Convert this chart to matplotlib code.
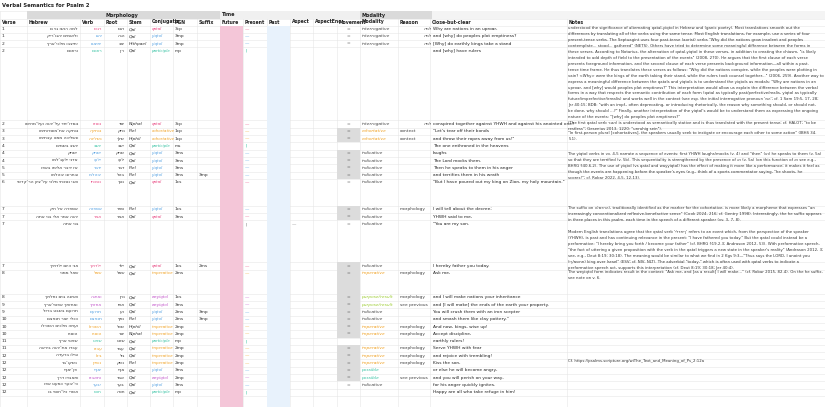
import matplotlib
matplotlib.use("Agg")
import matplotlib.pyplot as plt
from matplotlib.patches import Rectangle

title = "Verbal Semantics for Psalm 2"
groups = [("Morphology", 104, 220), ("Time", 220, 360), ("Modality", 360, 432)]
headers = ["Verse", "Hebrew", "Verb", "Root", "Stem", "Conjugatio", "PGN", "Suffix", "Future",
           "Present", "Past", "Aspect", "AspectEnc", "Movement", "Modality", "Reason", "Close-but-clear", "Notes"]
col_x = [0, 27, 80, 104, 127, 150, 173, 197, 220, 243, 267, 290, 313, 337, 360, 398, 430, 567, 825]

verses = ["1", "1", "2", "2", "2", "3", "3", "4", "4", "4", "5", "5", "6", "7", "7", "7", "7", "8", "8",
          "9", "9", "10", "10", "10", "11", "11", "12", "12", "12", "12", "12", "12"]
hebrew = ["ם יוג ושגר המל", "קיר־וגהי םימואלו", "ץרא־יכלמ ובציתי", "םינזורו",
          "ושיחמ־לעו הוהי־לע דחי־ודסונ", "ומיתורסומ־תא הקתננ", "ומיתבע ונממ הכילשנו",
          "םימשב בשוי", "קחשי", "ומל־געלי ינדא", "ופאב ומילא רבדי זא", "ומלהבי ונורחבו",
          "ישדק־רה ןויצ־לע יכלמ יתכסנ ינאו", "קח לא הרפסא", "התא ינב ילא רמא הוהי", "התא ינב",
          "ךיתדלי םויה ינא", "ינממ לאש", "ךתלחנ םיוג הנתאו", "ץרא־יספא ךתזחאו",
          "לזרב טבשב םעורת", "םצפנת רצוי ילככ", "וליכשה םיכלמ התעו", "ורסוה",
          "ץרא יטפש", "האריב הוהי־תא ודבע", "הדערב וליגו", "רב־וקשנ", "ףנאי־ןפ",
          "ךרד ודבאתו", "ופא טעמכ רעבי־יכ", "וב יסוח־לכ ירשא"]
verbs = ["ושגר", "וגהי", "ובציתי", "םינזור", "ודסונ", "הקתננ", "הכילשנ", "בשוי", "קחשי", "געלי",
         "רבדי", "ומלהבי", "יתכסנ", "הרפסא", "רמא", "", "ךיתדלי", "לאש", "הנתאו", "ךתזחא", "םעורת",
         "םצפנת", "וליכשה", "ורסוה", "יטפש", "ודבע", "וליג", "וקשנ", "ףנאי", "ודבאתו", "רעבי", "יסוח"]
roots = ["שגר", "הגה", "בצי", "ןזר", "דסי", "קתנ", "ךלש", "בשי", "קחש", "געל", "רבד", "להב", "ךסנ",
         "רפס", "רמא", "", "דלי", "לאש", "ןתנ", "זחא", "ער", "ץפנ", "לכש", "רסי", "טפש", "דבע", "ליג",
         "קשנ", "ףנא", "דבא", "רעב", "הסח"]
stems = ["Qal", "Qal", "Hithpael", "Qal", "Niphal", "Piel", "Hiphil", "Qal", "Qal", "Qal", "Piel", "Piel",
         "Qal", "Piel", "Qal", "", "Qal", "Qal", "Qal", "Qal", "Qal", "Piel", "Hiphil", "Niphal", "Qal",
         "Qal", "Qal", "Piel", "Qal", "Qal", "Qal", "Qal"]
conjs = ["qatal", "yiqtol", "yiqtol", "participle", "qatal", "cohortative", "cohortative", "participle",
         "yiqtol", "yiqtol", "yiqtol", "yiqtol", "qatal", "yiqtol", "qatal", "", "qatal", "imperative",
         "weyiqtol", "weyiqtol", "yiqtol", "yiqtol", "imperative", "imperative", "participle",
         "imperative", "imperative", "imperative", "yiqtol", "weyiqtol", "yiqtol", "participle"]
pgns = ["3cp", "3mp", "3mp", "mp", "3cp", "1cp", "1cp", "ms", "3ms", "3ms", "3ms", "3ms", "1cs", "1cs",
        "3ms", "", "1cs", "2ms", "1cs", "3ms", "2ms", "2ms", "2mp", "2mp", "mp", "2mp", "2mp", "2mp",
        "3ms", "2mp", "3ms", "mp"]
suffixes = ["", "", "", "", "", "", "", "", "", "", "", "3mp", "", "", "", "", "2ms", "", "", "", "3mp",
            "3mp", "", "", "", "", "", "", "", "", "", ""]
modalities = ["interrogative", "interrogative", "interrogative", "", "interrogative", "cohortative",
              "cohortative", "", "indicative", "indicative", "indicative", "indicative", "indicative",
              "indicative", "indicative", "indicative", "indicative", "imperative", "purpose/result",
              "purpose/result", "indicative", "indicative", "imperative", "imperative", "", "imperative",
              "imperative", "imperative", "possible", "possible", "indicative", ""]
reasons = ["", "", "", "", "", "context", "context", "", "", "", "", "", "", "morphology", "", "", "",
           "morphology", "morphology", "see previous", "", "", "morphology", "morphology", "",
           "morphology", "morphology", "morphology", "", "see previous", "", ""]
clauses = ["Why are nations in an uproar,", "and [why] do peoples plot emptiness?",
           "[Why] do earthly kings take a stand", "and [why] have rulers",
           "conspired together against YHWH and against his anointed one?", "\"Let's tear off their bonds",
           "and throw their ropes away from us!\"", "The one enthroned in the heavens", "laughs",
           "The Lord mocks them.", "Then he speaks to them in his anger", "and terrifies them in his wrath",
           "\"But I have poured out my king on Zion, my holy mountain.\"", "I will tell about the decree;",
           "YHWH said to me,", "\"You are my son.", "I hereby father you today.", "Ask me,",
           "and I will make nations your inheritance", "and [I will make] the ends of the earth your property.",
           "You will crush them with an iron scepter", "and smash them like clay pottery.\"",
           "And now, kings, wise up!", "Accept discipline,", "earthly rulers!", "Serve YHWH with fear",
           "and rejoice with trembling!", "Kiss the son,", "or else he will become angry,",
           "and you will perish on your way,", "for his anger quickly ignites.", "Happy are all who take refuge in him!"]
row_h = [7.3, 7.3, 7.3, 73, 7.3, 7.3, 7.3, 7.3, 7.3, 7.3, 7.3, 7.3, 27, 7.3, 7.3, 42, 7.3, 24, 7.3,
         7.3, 7.3, 7.3, 7.3, 7.3, 7.3, 7.3, 7.3, 7.3, 7.3, 7.3, 7.3, 7.3]

conj_col = {"qatal": "#e8437f", "yiqtol": "#4a9be0", "weyiqtol": "#c04fc8", "participle": "#30c0a0",
            "cohortative": "#f0a020", "imperative": "#f0a020", "": "#444444"}
mod_col = {"purpose/result": "#9bcc2f", "possible": "#30c0a0", "cohortative": "#f0a020",
           "imperative": "#f0a020"}

notes = [
 (26, "understood the significance of alternating qatal-yiqtol in Hebrew and (ganic poetry). Most translations smooth out the\n"
      "differences by translating all of the verbs using the same tense. Most English translations, for example, use a series of four\n"
      "present-tense verbs. The Septuagint uses four past-tense (aorist) verbs \"Why did the nations grow insolent and peoples\n"
      "contemplate... stood... gathered\" (NETS). Others have tried to determine some meaningful difference between the forms in\n"
      "these verses. According to Notarius, the alternation of qatal-yiqtol in these verses, in addition to creating the chiasm, \"is likely\n"
      "intended to add depth of field to the presentation of the events\" (2008, 270). He argues that the first clause of each verse\n"
      "presents foreground information, and the second clause of each verse presents background information—all within a past-\n"
      "tense time frame. He thus translates these verses as follows: \"Why did the nations conspire, while the peoples were plotting in\n"
      "vain? <Why> were the kings of the earth taking their stand, while the rulers took counsel together...\" (2006, 259). Another way to\n"
      "express a meaningful difference between the qatals and yiqtols is to understand the yiqtols as modals: \"Why are nations in an\n"
      "uproar, and [why] would peoples plot emptiness?\" This interpretation would allow us explain the difference between the verbal\n"
      "forms in a way that respects the semantic contribution of each form (qatal as typically past/perfective/realis, yiqtol as typically\n"
      "future/imperfective/irrealis) and works well in the context (see esp. the initial interrogative pronoun 'מה'; cf. 1 Sam 19:5, 17, 28;\n"
      "Jer 40:15; BDB: \"with an impf., often deprecating, or introducing rhetorically, the reason why something should, or should not,\n"
      "be done, why should ...?\" Finally, another interpretation of the yiqtol's would be to understand them as expressing the ongoing\n"
      "nature of the events: \"[why] do peoples plot emptiness?\"\n"
      "(The first qatal verb רגשו) is understood as semantically stative and is thus translated with the present tense; cf. HALOT; \"to be\n"
      "restless\"; Gesenius 2013, 1220: \"unruhig sein\")."),
 (131, "\"In first-person plural [cohortatives], the speakers usually seek to instigate or encourage each other to some action\" (IBHS 34.\n5.1)."),
 (152, "The yiqtol verbs in vv. 4-5 narrate a sequence of events: first YHWH laughs/mocks (v. 4) and \"then\" (או) he speaks to them (v. 5a)\n"
       "so that they are terrified (v. 5b). This sequentiality is strengthened by the presence of או (v. 5a) (on this function of או see e.g.,\n"
       "BHRG §40.6.2). The use of yiqtol (vs qatal and wayyiqtol) has the effect of making it more like a performance; it makes it feel as\n"
       "though the events are happening before the speaker's eyes (e.g., think of a sports commentator saying, \"he shoots, he\n"
       "scores!\"; cf. Robar 2022, 4-5, 12-13)."),
 (206, "The suffix on ה)ספרה), traditionally identified as the marker for the cohortative, is more likely a morpheme that expresses \"an\n"
       "increasingly conventionalized reflexive-benefactive sense\" (Cook 2024, 216; cf. Gentry 1998). Interestingly, the he suffix appears\n"
       "in three places in this psalm, each time in the speech of a different speaker (vv. 3, 7, 8)."),
 (230, "Modern English translations agree that the qatal verb 'ילדתיך' refers to an event which, from the perspective of the speaker\n"
       "(YHWH), is past and has continuing relevance in the present: \"I have fathered you today.\" But the qatal could instead be a\n"
       "performative: \"I hereby bring you forth / become your father\" (cf. BHRG §19.2.3; Andrason 2012, 53). With performative speech,\n"
       "\"the fact of uttering a given proposition with the verb in the qatal triggers a new state in the speaker's reality\" (Andrason 2012, 3;\n"
       "see, e.g., Deut 8:19; 30:18). The meaning would be similar to what we find in 2 Kgs 9:3—\"Thus says the LORD, I anoint you\n"
       "(יך/משחת) king over Israel\" (ESV; cf. NIV, NLT). The adverbial \"today,\" which is often used with qatal verbs to indicate a\n"
       "performative speech act, supports this interpretation (cf. Deut 8:19; 30:18; Jer 40:4)."),
 (270, "The weyiqtol form indicates result in the context: \"Ask me, and [as a result] I will make...\" (cf. Robar 2015, 82.4). On the he suffix,\n"
       "see note on v. 6."),
 (359, "Cf. https://psalms.scripture.org/wiThe_Text_and_Meaning_of_Ps_2:12a"),
]

fig = plt.figure(figsize=(8.25, 4.07), dpi=100)
ax = fig.add_axes([0, 0, 1, 1])
ax.set_xlim(0, 825)
ax.set_ylim(407, 0)
ax.axis("off")

top = 25.5
ys = [top]
for h in row_h:
    ys.append(ys[-1] + h)
bottom = 407

for x in col_x[:-1]:
    ax.plot([x, x], [11, bottom], color="#e6e6e6", lw=0.4, zorder=0)
for y in [11, 18.5] + ys:
    ax.plot([0, 825], [y, y], color="#e6e6e6", lw=0.4, zorder=0)
ax.add_patch(Rectangle((220, top), 23, bottom - top, color="#f4c6d8", zorder=1, lw=0))
ax.add_patch(Rectangle((267, top), 23, bottom - top, color="#e8f2fc", zorder=1, lw=0))
ax.add_patch(Rectangle((27, 11), 193, 7.5, color="#dadada", zorder=1, lw=0))
ax.add_patch(Rectangle((220, 11), 140, 7.5, color="#f0f0f0", zorder=1, lw=0))
ax.add_patch(Rectangle((360, 11), 72, 7.5, color="#dadada", zorder=1, lw=0))
ax.add_patch(Rectangle((432, 11), 393, 7.5, color="#f4f4f4", zorder=1, lw=0))
for name, x0, x1 in groups:
    ax.text(x0 + 1.5, 15, name, fontsize=3.5, fontweight="bold", va="center", color="#222")
ax.text(2, 5.5, title, fontsize=3.8, fontweight="bold", va="center", color="#222")
for i, hd in enumerate(headers):
    t = ax.text(col_x[i] + 1.5, 22, hd, fontsize=3.3, fontweight="bold", va="center", color="#222")
    t.set_clip_box(None)

fs = 3.2
for i in range(len(verses)):
    y = ys[i] + 3.6
    ax.text(2, y, verses[i], fontsize=fs, va="center", color="#333")
    ax.text(78, y, hebrew[i], fontsize=fs, va="center", ha="right", color="#333")
    c = conj_col[conjs[i]]
    ax.text(102, y, verbs[i], fontsize=fs, va="center", ha="right", color=c)
    ax.text(125, y, roots[i], fontsize=fs, va="center", ha="right", color="#333")
    ax.text(128.5, y, stems[i], fontsize=fs, va="center", color="#333", style="italic")
    ax.text(151.5, y, conjs[i], fontsize=2.9, va="center", color=c, style="italic")
    ax.text(175, y, pgns[i], fontsize=fs, va="center", color="#333")
    ax.text(198.5, y, suffixes[i], fontsize=fs, va="center", color="#333")
    if conjs[i]:
        mark = "|" if conjs[i] == "participle" else "—"
        ax.text(245, y, mark, fontsize=fs, va="center", color=c)
    elif verses[i] == "7":
        ax.text(245, y, "|", fontsize=fs, va="center", color="#777")
        ax.text(292, y, "—", fontsize=fs, va="center", color="#777")
    if modalities[i]:
        shaded = (modalities[i] != "interrogative" and verses[i] not in ("6",)
                  and not (verses[i] == "7" and i == 15) and not (verses[i] == "12" and i == 30))
        if shaded:
            ax.add_patch(Rectangle((337, ys[i]), 23, row_h[i], color="#dcdcdc", zorder=1, lw=0))
        ax.text(347, y, "=", fontsize=fs, va="center", color="#555")
        ax.text(361.5, y, modalities[i], fontsize=fs, va="center",
                color=mod_col.get(modalities[i], "#444"), style="italic")
    ax.text(399.5, y, reasons[i], fontsize=fs, va="center", color="#444")
    if modalities[i] == "interrogative":
        ax.text(432, y, "המל", fontsize=fs, va="center", ha="right", color="#444")
    ax.text(433, y, clauses[i], fontsize=fs, va="center", color="#222")

for y, t in notes:
    ax.text(568.5, y, t, fontsize=2.75, va="top", color="#333", linespacing=1.65)

fig.savefig("out.png", dpi=100)
